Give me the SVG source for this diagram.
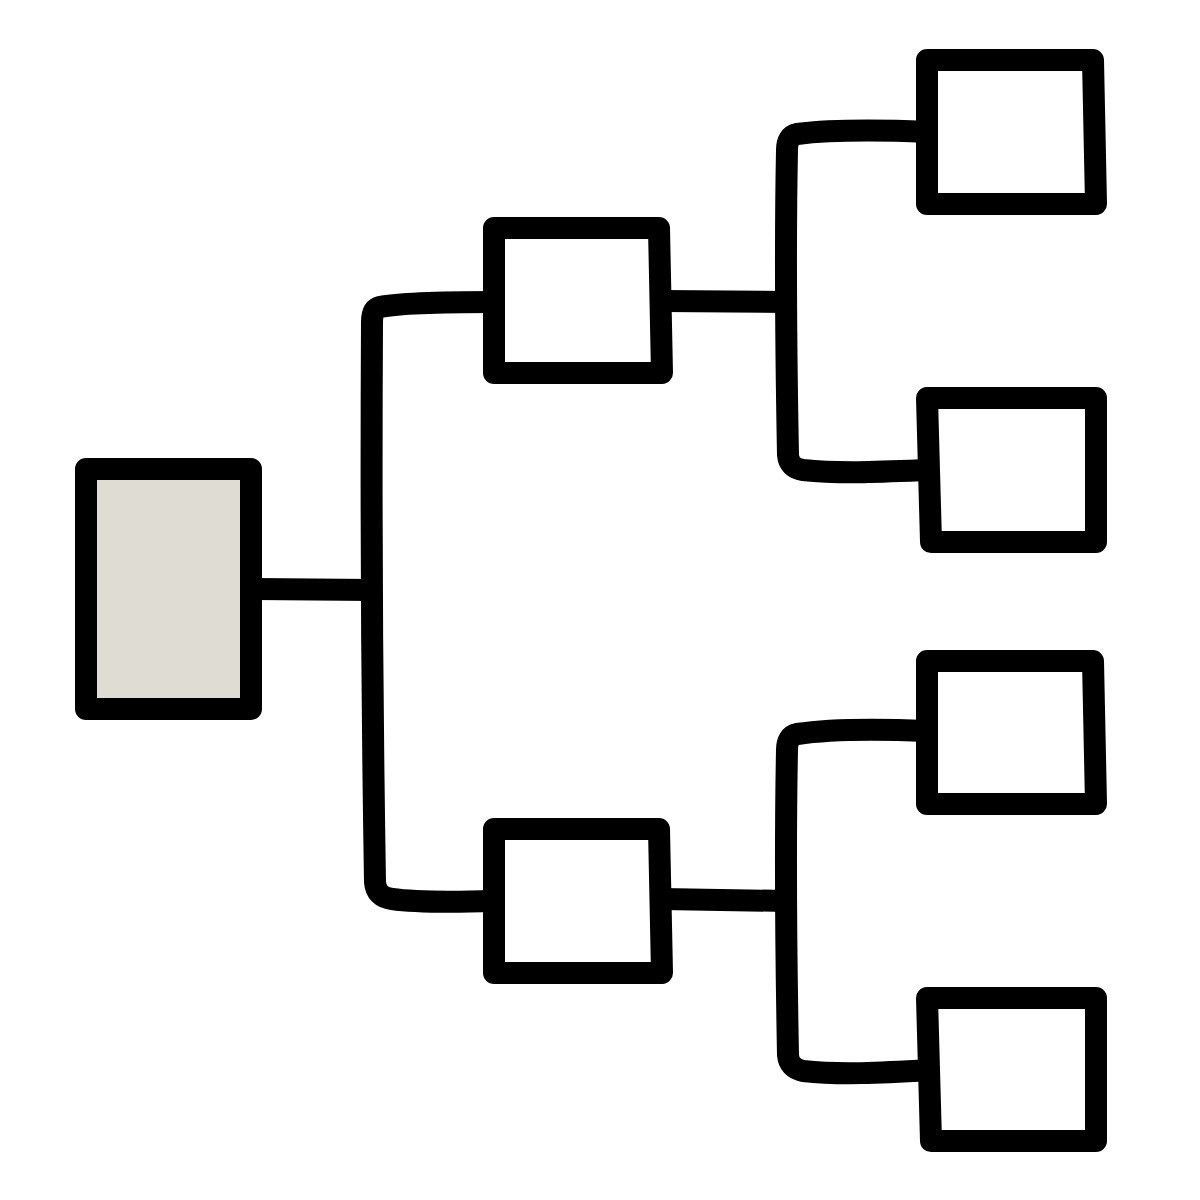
<svg xmlns="http://www.w3.org/2000/svg" width="1200" height="1200" viewBox="0 0 1200 1200">
<style>
.box{fill:#FFFFFF;stroke:#000;stroke-width:22;stroke-linejoin:round}
.root{fill:#DFDDD3}
.c{fill:none;stroke:#000;stroke-width:22;stroke-linejoin:round}
</style>
<rect width="1200" height="1200" fill="#FFFFFF"/>
<g id="connectors">
<path class="c" d="M251 589 L372 590"/>
<path class="c" d="M494 302 C450 302 400 303 380 307 Q372 309 372 322 C371 500 372 700 375 882 Q376 897 392 899 C420 903 460 902 494 901"/>
<path class="c" d="M662 301 L787 302"/>
<path class="c" d="M927 132 C880 130 830 130 797 134 Q787 136 787 150 C785 250 786 350 788 455 Q789 468 803 470 C840 474 880 472 929 470"/>
<path class="c" d="M662 899 L787 901"/>
<path class="c" d="M927 731 C880 729 830 729 797 734 Q787 736 787 750 C785 850 786 950 788 1055 Q789 1068 803 1071 C840 1075 880 1073 929 1070"/>
</g>
<g id="root"><polygon class="box root" points="86,469 251,469 251,709 86,709"/></g>
<g id="mid-top"><polygon class="box" points="494,228 659,228 662,373 494,373"/></g>
<g id="mid-bottom"><polygon class="box" points="494,829 659,829 662,973 494,973"/></g>
<g id="leaf-1"><polygon class="box" points="927,60 1093,60 1096,204 927,204"/></g>
<g id="leaf-2"><polygon class="box" points="927,398 1096,398 1096,542 931,542"/></g>
<g id="leaf-3"><polygon class="box" points="927,661 1093,661 1096,804 927,804"/></g>
<g id="leaf-4"><polygon class="box" points="927,998 1096,998 1096,1141 931,1141"/></g>
</svg>
